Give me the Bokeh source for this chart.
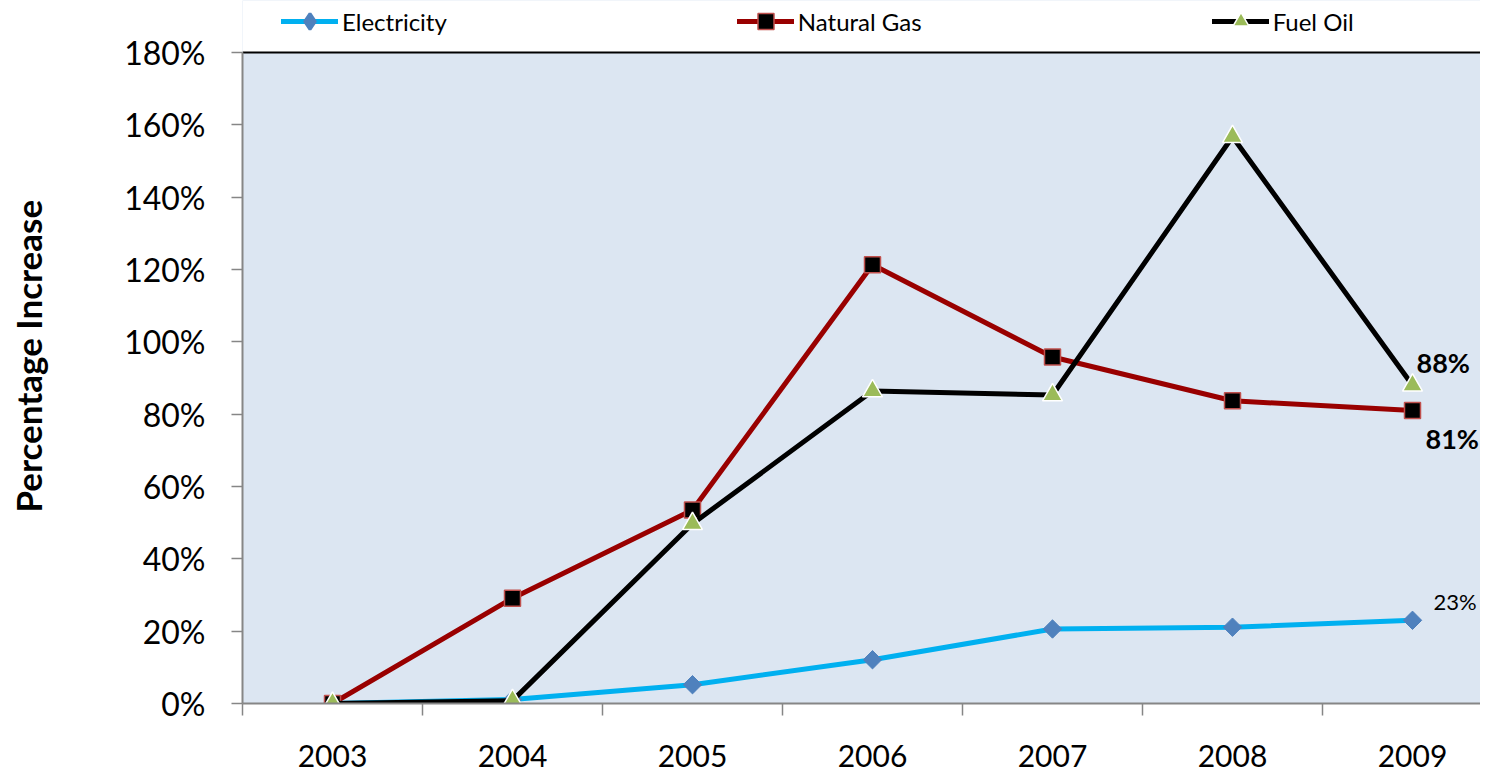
from bokeh.plotting import figure
from bokeh.models import (Range1d, FixedTicker, PrintfTickFormatter, Legend,
                          LegendItem, BoxAnnotation)
from bokeh.core.properties import value
from bokeh.embed import file_html
from bokeh.resources import INLINE
import math

years = [2003, 2004, 2005, 2006, 2007, 2008, 2009]
electricity = [0, 1.1, 5.2, 12.1, 20.6, 21.1, 23]
natural_gas = [0, 29.1, 53.5, 121.3, 95.8, 83.7, 81]
fuel_oil = [0, 0.8, 49.7, 86.4, 85.3, 156.7, 88]
y_ticks = [0, 20, 40, 60, 80, 100, 120, 140, 160, 180]
series_names = ["Electricity", "Natural Gas", "Fuel Oil"]

FONT = "Lato"
GRAY = "#868686"
W, H = 1480, 773
LEFT, BOTTOM = 242, 70
PLOT_TOP = 52                      # pixel row of the 180% line
Y_MAX = 180
frame_h = H - BOTTOM
y_end = Y_MAX + PLOT_TOP * Y_MAX / (frame_h - PLOT_TOP)
x_start = 2002.5
x_end = x_start + (W - LEFT) / 180

p = figure(width=W, height=H,
           x_range=Range1d(x_start, x_end),
           y_range=Range1d(0, y_end),
           output_backend="svg", toolbar_location=None,
           min_border_left=LEFT, min_border_right=0,
           min_border_top=0, min_border_bottom=BOTTOM)
p.background_fill_color = "#DCE6F2"
p.border_fill_color = "white"
p.outline_line_color = None
p.xgrid.grid_line_color = None
p.ygrid.grid_line_color = None

# white area above the plot area (room for the legend)
p.add_layout(BoxAnnotation(bottom=Y_MAX, fill_color="white", fill_alpha=1,
                           line_color=None, level="underlay"))
# top border of plot area
p.segment(x0=[x_start], y0=[Y_MAX], x1=[x_end], y1=[Y_MAX],
          line_color="black", line_width=2)

# y axis
p.yaxis.bounds = (0, Y_MAX)
p.yaxis.ticker = FixedTicker(ticks=y_ticks)
p.yaxis.formatter = PrintfTickFormatter(format="%d%%")
p.yaxis.axis_line_color = GRAY
p.yaxis.axis_line_width = 2
p.yaxis.major_tick_line_color = GRAY
p.yaxis.major_tick_line_width = 1.5
p.yaxis.major_tick_out = 11
p.yaxis.major_tick_in = 0
p.yaxis.minor_tick_line_color = None
p.yaxis.major_label_text_font = FONT
p.yaxis.major_label_text_font_size = "32px"
p.yaxis.major_label_text_color = "black"
p.yaxis.major_label_standoff = 26
p.yaxis.axis_label = "Percentage  Increase"
p.yaxis.axis_label_text_font = FONT
p.yaxis.axis_label_text_font_style = "bold"
p.yaxis.axis_label_text_font_size = "35px"
p.yaxis.axis_label_text_color = "black"
p.yaxis.axis_label_standoff = 72

# x axis
p.xaxis.ticker = FixedTicker(ticks=years,
                             minor_ticks=[y - 0.5 for y in years] + [years[-1] + 0.5])
p.xaxis.axis_line_color = GRAY
p.xaxis.axis_line_width = 2
p.xaxis.major_tick_line_color = None
p.xaxis.major_tick_out = 0
p.xaxis.major_tick_in = 0
p.xaxis.minor_tick_line_color = GRAY
p.xaxis.minor_tick_line_width = 1.5
p.xaxis.minor_tick_out = 12
p.xaxis.minor_tick_in = 0
p.xaxis.major_label_text_font = FONT
p.xaxis.major_label_text_font_size = "30px"
p.xaxis.major_label_text_color = "black"
p.xaxis.major_label_standoff = 29

# series
e_line = p.line(years, electricity, line_color="#00B0F0", line_width=5,
                line_join="round", line_cap="round")
e_mark = p.scatter(years, electricity, marker="square", angle=math.pi / 4, size=13,
                   fill_color="#4F81BD", line_color="#4F81BD", line_width=1)
g_line = p.line(years, natural_gas, line_color="#990000", line_width=5,
                line_join="round", line_cap="round")
g_mark = p.scatter(years, natural_gas, marker="square", size=16,
                   fill_color="black", line_color="#C0504D", line_width=1.5)
f_line = p.line(years, fuel_oil, line_color="black", line_width=5,
                line_join="round", line_cap="round")
f_mark = p.scatter(years, fuel_oil, marker="triangle", size=20,
                   fill_color="#9BBB59", line_color="white", line_width=1.5)

# legend-only diamond, placed off the visible range
e_leg = p.scatter(x=[years[0] - 100], y=[-1000], marker="diamond", fill_color="#4F81BD",
                  line_color="#4F81BD", line_width=3)

# data labels at last point
def pct(v):
    return f"{round(v)}%"

p.text(x=[years[-1]], y=[fuel_oil[-1]], text=[pct(fuel_oil[-1])],
       x_offset=4, y_offset=-23, text_font=value(FONT), text_font_style="bold",
       text_font_size="27px", text_align="left", text_baseline="middle",
       text_color="black")
p.text(x=[years[-1]], y=[natural_gas[-1]], text=[pct(natural_gas[-1])],
       x_offset=13, y_offset=28, text_font=value(FONT), text_font_style="bold",
       text_font_size="27px", text_align="left", text_baseline="middle",
       text_color="black")
p.text(x=[years[-1]], y=[electricity[-1]], text=[pct(electricity[-1])],
       x_offset=21, y_offset=-19, text_font=value(FONT),
       text_font_size="22px", text_align="left", text_baseline="middle",
       text_color="black")

# legend in the white strip above the plot area
legend = Legend(items=[LegendItem(label=n, renderers=rs) for n, rs in
                       zip(series_names, [[e_line, e_leg], [g_line, g_mark],
                                          [f_line, f_mark]])],
                location=(39, frame_h - 41), orientation="horizontal",
                padding=0, margin=0, spacing=290, border_line_color=None,
                background_fill_alpha=0, glyph_width=57, glyph_height=40,
                label_standoff=4, label_text_font=FONT,
                label_text_font_size="24px", label_text_color="black")
p.add_layout(legend)

open("out.html", "w").write(file_html(p, INLINE))
